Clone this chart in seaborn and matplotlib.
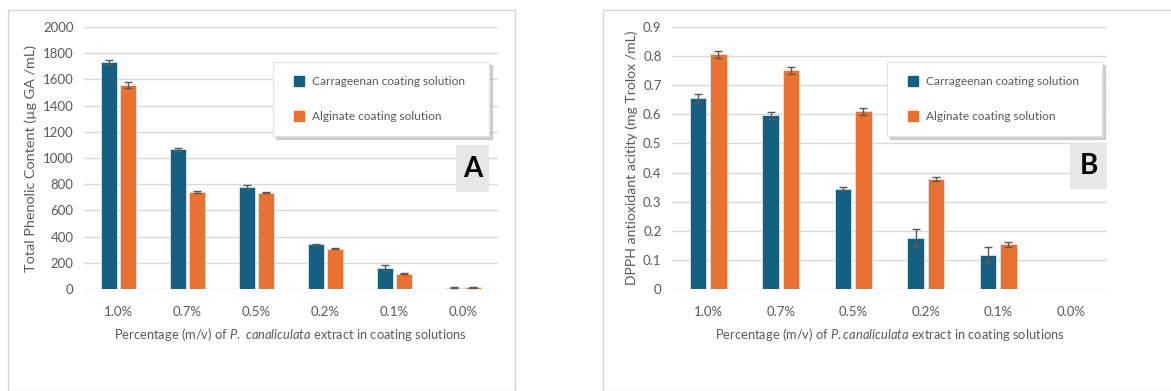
import matplotlib
matplotlib.use("Agg")
import matplotlib.pyplot as plt
from matplotlib.patches import Rectangle
from matplotlib.lines import Line2D
import pandas as pd
import seaborn as sns

# data
levels = ["1.0%", "0.7%", "0.5%", "0.2%", "0.1%", "0.0%"]
series = ["Carrageenan coating solution", "Alginate coating solution"]

tpc_carr = [1732, 1065, 780, 340, 160, 10]
tpc_carr_err = [15, 12, 15, 5, 20, 3]
tpc_alg = [1560, 740, 735, 308, 118, 12]
tpc_alg_err = [22, 5, 5, 5, 5, 5]

dpph_carr = [0.655, 0.597, 0.345, 0.175, 0.118, 0.0]
dpph_carr_err = [0.015, 0.012, 0.005, 0.030, 0.027, 0.0]
dpph_alg = [0.807, 0.752, 0.610, 0.378, 0.153, 0.0]
dpph_alg_err = [0.012, 0.012, 0.013, 0.008, 0.010, 0.0]

BLUE = "#156082"
ORANGE = "#E97132"
GREY = "#595959"

sns.set_theme(style="white")
plt.rcParams["font.family"] = ["Lato", "DejaVu Sans"]
plt.rcParams["mathtext.fontset"] = "custom"
plt.rcParams["mathtext.rm"] = "Lato"
plt.rcParams["mathtext.it"] = "Lato:italic"

W, H = 1171, 391
fig = plt.figure(figsize=(W / 100, H / 100), dpi=100)


def px_axes(left, right, top, bottom):
    return fig.add_axes([left / W, (H - bottom) / H, (right - left) / W, (bottom - top) / H])


def panel(ax, carr, carr_err, alg, alg_err, ymax, step, ylabel, ylabel_size, xlabel,
          letter, leg_box, let_box):
    df = pd.DataFrame({
        "level": levels * 2,
        "value": carr + alg,
        "series": [series[0]] * len(levels) + [series[1]] * len(levels),
    })
    sns.barplot(data=df, x="level", y="value", hue="series", order=levels, hue_order=series,
                palette=[BLUE, ORANGE], saturation=1, width=0.56, gap=0.2, ax=ax,
                edgecolor="#dbe6ee", linewidth=0.6, legend=False)
    for cont, errs in zip(ax.containers, [carr_err, alg_err]):
        xs, ys, es = [], [], []
        for p, e in zip(cont.patches, errs):
            if e > 0:
                xs.append(p.get_x() + p.get_width() / 2)
                ys.append(p.get_height())
                es.append(e)
        ax.errorbar(xs, ys, yerr=es, fmt="none", ecolor=GREY, elinewidth=1, capsize=3, capthick=1)

    ax.set_xlim(-0.5, len(levels) - 0.5)
    ax.set_ylim(0, ymax)
    n = int(round(ymax / step))
    ticks = [i * step for i in range(n + 1)]
    ax.set_yticks(ticks)
    if step >= 1:
        ax.set_yticklabels([f"{t:.0f}" for t in ticks])
    else:
        ax.set_yticklabels(["0"] + [f"{t:.1f}" for t in ticks[1:]])
    ax.yaxis.grid(True, color="#d9d9d9", linewidth=1)
    ax.set_axisbelow(True)
    for s in ax.spines.values():
        s.set_visible(False)
    ax.tick_params(axis="both", length=0, colors=GREY, labelsize=9.5)
    ax.tick_params(axis="x", pad=12)
    ax.tick_params(axis="y", pad=7.5)
    ax.set_ylabel(ylabel, color=GREY, fontsize=ylabel_size, labelpad=4)
    ax.set_xlabel(xlabel, color=GREY, fontsize=9.3, labelpad=6)

    handles = [Line2D([], [], marker="s", linestyle="none", color=c, markersize=7) for c in [BLUE, ORANGE]]
    leg = ax.legend(handles, series, loc="upper left", bbox_to_anchor=leg_box, mode="expand",
                    frameon=True, fancybox=False, shadow={"color": "#bdbdbd", "alpha": 0.7},
                    fontsize=8.6, labelspacing=2.05, borderpad=1.15, handletextpad=0.1,
                    handlelength=2.0, borderaxespad=0, labelcolor=GREY)
    leg.get_frame().set_edgecolor("#e3e3e3")
    leg.get_frame().set_linewidth(0.8)

    x0, y0, w, h = let_box
    ax.add_patch(Rectangle((x0, y0), w, h, transform=ax.transAxes, facecolor="#e7e7e7",
                           edgecolor="none", clip_on=False, zorder=5))
    ax.text(x0 + w / 2, y0 + h / 2, letter, transform=ax.transAxes, ha="center", va="center",
            fontsize=20, fontweight="bold", color="black", zorder=6)


# outer panel frames
fig.patches.append(Rectangle((8 / W, 0), (515 - 8) / W, (H - 10) / H, transform=fig.transFigure,
                             fill=False, edgecolor="#d4d4d4", linewidth=1))
fig.patches.append(Rectangle((603 / W, 0), (W - 603 + 5) / W, (H - 10) / H, transform=fig.transFigure,
                             fill=False, edgecolor="#d4d4d4", linewidth=1))

axA = px_axes(84, 498, 27, 289)
panel(axA, tpc_carr, tpc_carr_err, tpc_alg, tpc_alg_err, 2000, 200,
      "Total Phenolic Content (µg GA /mL)", 10.4,
      r"Percentage (m/v) of $\mathit{P.\ canaliculata}$ extract in coating solutions",
      "A", (0.457, 0.588, 0.521, 0.278), (0.899, 0.370, 0.080, 0.179))

axB = px_axes(672, 1107, 27, 289)
panel(axB, dpph_carr, dpph_carr_err, dpph_alg, dpph_alg_err, 0.9, 0.1,
      "DPPH antioxidant acitity (mg Trolox /mL)", 10.1,
      r"Percentage (m/v) of $\mathit{P.canaliculata}$ extract in coating solutions",
      "B", (0.494, 0.595, 0.495, 0.271), (0.915, 0.382, 0.085, 0.176))

fig.savefig("out.png", dpi=100)
